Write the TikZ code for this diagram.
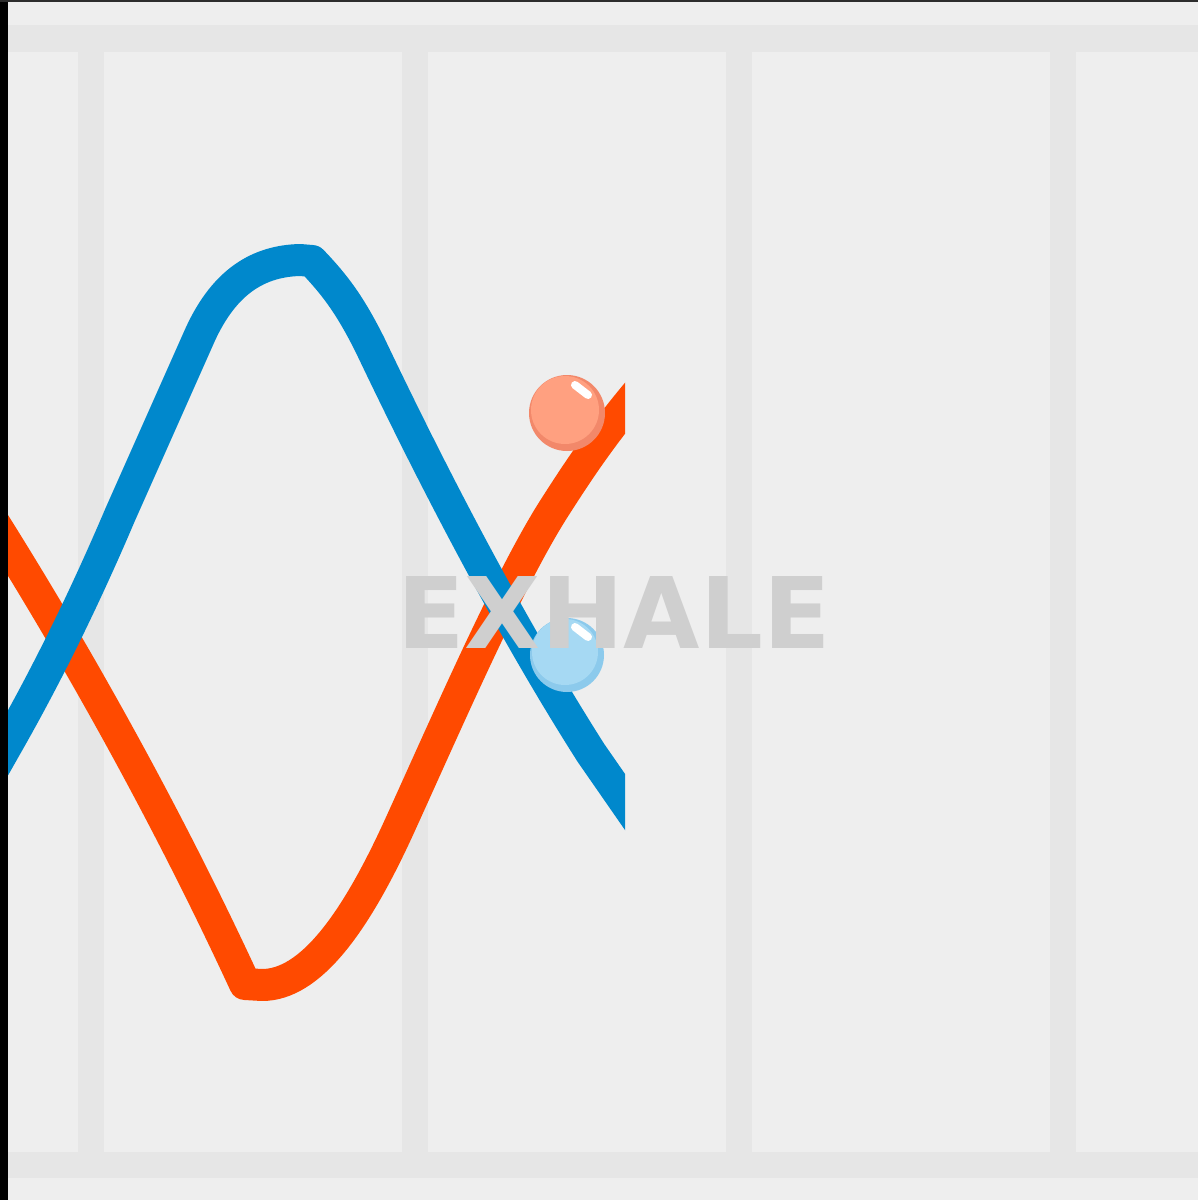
\documentclass[tikz,border=0pt]{standalone}
\usepackage{xcolor}
\usepackage{fontspec}
\usepackage{tikz}
\newfontfamily\labelfont{DejaVu Sans}
\definecolor{waveBlue}{RGB}{0, 136, 204}
\definecolor{waveOrange}{RGB}{255, 74, 0}
\definecolor{ballBlue}{RGB}{166, 217, 243}
\definecolor{ballBlueRim}{RGB}{140, 202, 236}
\definecolor{ballOrange}{RGB}{255, 160, 128}
\definecolor{ballOrangeRim}{RGB}{242, 136, 106}
\definecolor{panelLight}{RGB}{238, 238, 238}
\definecolor{panelBand}{RGB}{230, 230, 230}
\definecolor{labelGray}{RGB}{207, 207, 207}
\definecolor{frameDark}{RGB}{45, 45, 45}

\begin{document}
\begin{tikzpicture}[x=0.02cm, y=-0.02cm,
    band/.style={fill=panelBand},
    wave/.style={line width=0.64cm, line join=round},
    shine/.style={white, line width=0.16cm, line cap=round}]
    % Background panels
    \fill[panelLight] (0,0) rectangle (1198,1200);
    \fill[band] (0,25) rectangle (1198,52);
    \fill[band] (0,1152) rectangle (1198,1178);
    \foreach \x in {78,402,726,1050}
      \fill[band] (\x,52) rectangle ++(26,1100);
    % Waves
    \begin{scope}
      \clip (8,0) rectangle (625,1200);
      \draw[wave, waveOrange] (-30,485) .. controls (60,625) and (160,800) .. (245,984) -- (262,985)
        .. controls (310,985) and (355,924) .. (400,825)
        .. controls (450,715) and (510,577) .. (555,507)
        .. controls (580,468) and (605,430) .. (650,378);
      \draw[wave, waveBlue] (-30,810) -- (8,743) .. controls (45,678) and (83,602) .. (120,515) -- (200,335)
        .. controls (225,280) and (260,261) .. (300,260) -- (312,261)
        .. controls (335,285) and (350,305) .. (370,345)
        .. controls (420,450) and (500,610) .. (591,753) -- (650,838);
    \end{scope}
    % Balls
    \fill[ballOrangeRim] (567,413) circle (38);
    \fill[ballOrange] (565,410) circle (34);
    \draw[shine] (575,385) -- (588,395);
    \fill[ballBlueRim] (567,655) circle (37);
    \fill[ballBlue] (565,652) circle (33);
    \draw[shine] (575,627) -- (588,637);
    % Label
    \node[font=\labelfont\bfseries\fontsize{56.2pt}{60pt}\selectfont, text=labelGray, anchor=base, inner sep=0] (exhale) at (614,648) {EXHALE};
    % Frame edges
    \fill[black] (0,0) rectangle (8,1200);
    \fill[frameDark] (0,0) rectangle (1198,2);
\end{tikzpicture}
\end{document}
